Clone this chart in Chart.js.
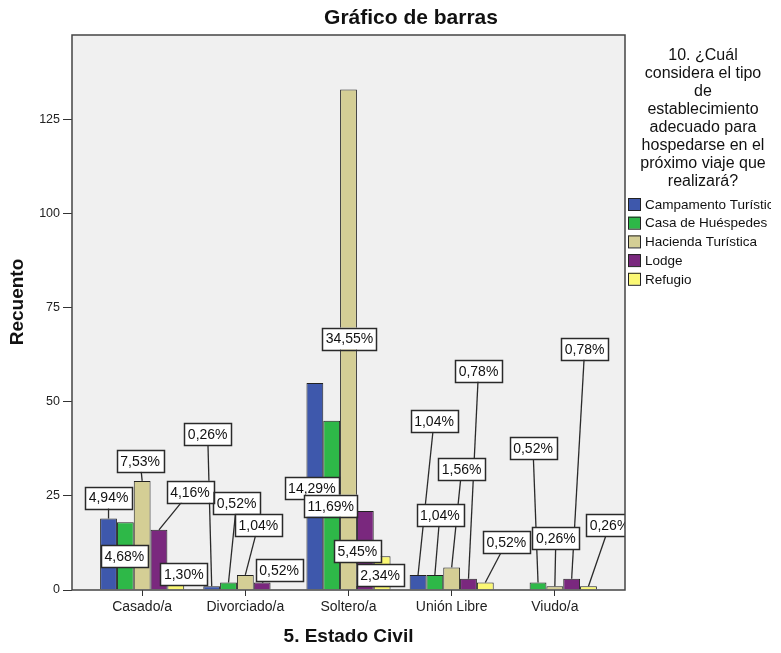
<!DOCTYPE html>
<html>
<head>
<meta charset="utf-8">
<script src="https://cdn.jsdelivr.net/npm/chart.js@4.4.1/dist/chart.umd.min.js"></script>
<style>
  html, body { margin: 0; padding: 0; background: #ffffff; }
  #wrap { width: 781px; height: 653px; }
</style>
</head>
<body>
<div id="wrap"><canvas id="chart" width="781" height="653"></canvas></div>
<script>
// Recuento por estado civil y tipo de establecimiento preferido
const categories = ['Casado/a', 'Divorciado/a', 'Soltero/a', 'Unión Libre', 'Viudo/a'];
const campamento    = [19, 1, 55, 4, 0];
const casaHuespedes = [18, 2, 45, 4, 2];
const hacienda      = [29, 4, 133, 6, 1];
const lodge         = [16, 2, 21, 3, 3];
const refugio       = [5, 0, 9, 2, 1];
const seriesNames = ['Campamento Turística', 'Casa de Huéspedes', 'Hacienda Turística', 'Lodge', 'Refugio'];
const yTicks = [0, 25, 50, 75, 100, 125];

const chartTitle = 'Gráfico de barras';
const xTitle = '5. Estado Civil';
const yTitle = 'Recuento';
const legendTitle = ['10. ¿Cuál', 'considera el tipo', 'de', 'establecimiento', 'adecuado para',
                     'hospedarse en el', 'próximo viaje que', 'realizará?'];

// Colores de las series
const seriesColors = ['#3E58AC', '#2EB848', '#D4CE95', '#7A287E', '#FBF874'];

// Desplazamiento (px) de cada etiqueta de porcentaje respecto al extremo superior de su barra
const labelOffsets = [
  [[0, -21], [-4, -152], [-3, 105], [16, -154], null],
  [[-1, 34], [8, -79], [-1, 85], [5, -60], [-5, -134]],
  [[-2, -20], [13, -50], [1, 249], [10, -98], [1, -48]],
  [[31, -38], [17, -12], [-8, 40], [10, -208], [13, -230]],
  [[8, 3], null, [-2, 19], [21, -40], [21, -61]]
];

const seriesValues = [campamento, casaHuespedes, hacienda, lodge, refugio];
const total = seriesValues.flat().reduce((a, b) => a + b, 0);
const pctText = v => (v / total * 100).toFixed(2).replace('.', ',') + '%';

const FONT = "'Liberation Sans', Arial, Helvetica, sans-serif";

const plotDecor = {
  id: 'plotDecor',
  beforeDraw(chart) {
    const { ctx, chartArea: a } = chart;
    ctx.save();
    ctx.fillStyle = '#ffffff';
    ctx.fillRect(0, 0, chart.width, chart.height);
    ctx.fillStyle = '#F0F0F0';
    ctx.fillRect(a.left, a.top, a.right - a.left, a.bottom - a.top);
    ctx.restore();
  },
  afterDatasetsDraw(chart) {
    const { ctx, chartArea: a } = chart;
    ctx.save();
    // etiquetas de porcentaje con líneas guía
    ctx.beginPath();
    ctx.rect(a.left, a.top, a.right - a.left, a.bottom - a.top);
    ctx.clip();
    ctx.font = '14px ' + FONT;
    const boxes = [];
    chart.data.datasets.forEach((ds, si) => {
      const meta = chart.getDatasetMeta(si);
      ds.data.forEach((pt, ci) => {
        const off = labelOffsets[si][ci];
        if (!off || pt.y <= 0) return;
        const bar = meta.data[ci];
        const text = pctText(pt.y);
        const w = ctx.measureText(text).width + 7;
        const h = 22;
        const cx = bar.x + off[0], cy = bar.y + off[1];
        boxes.push({ text, x: cx - w / 2, y: cy - h / 2, w, h, bx: bar.x, by: bar.y, cx, cy });
      });
    });
    ctx.strokeStyle = '#2a2a2a';
    ctx.lineWidth = 1.3;
    boxes.forEach(b => {
      if (b.y + b.h < b.by) {
        ctx.beginPath();
        ctx.moveTo(b.cx, b.cy);
        ctx.lineTo(b.bx, b.by);
        ctx.stroke();
      }
    });
    boxes.forEach(b => {
      ctx.fillStyle = '#ffffff';
      ctx.fillRect(b.x, b.y, b.w, b.h);
      ctx.lineWidth = 1.5;
      ctx.strokeStyle = '#2a2a2a';
      ctx.strokeRect(Math.round(b.x) + 0.5, Math.round(b.y) + 0.5, Math.round(b.w), Math.round(b.h));
      ctx.fillStyle = '#111111';
      ctx.textAlign = 'center';
      ctx.textBaseline = 'middle';
      ctx.fillText(b.text, b.cx, b.cy + 1);
    });
    ctx.restore();

    // marco del área de trazado
    ctx.save();
    ctx.strokeStyle = '#444444';
    ctx.lineWidth = 1.5;
    ctx.strokeRect(a.left, a.top, a.right - a.left, a.bottom - a.top);
    ctx.restore();
  },
  afterDraw(chart) {
    const { ctx } = chart;
    ctx.save();
    ctx.fillStyle = '#111111';
    ctx.textAlign = 'center';
    ctx.textBaseline = 'middle';

    // título principal
    ctx.font = 'bold 21px ' + FONT;
    ctx.fillText(chartTitle, 411, 18);

    // título del eje vertical
    ctx.save();
    ctx.translate(18, 302);
    ctx.rotate(-Math.PI / 2);
    ctx.font = 'bold 19px ' + FONT;
    ctx.fillText(yTitle, 0, 0);
    ctx.restore();

    // leyenda
    ctx.font = '16px ' + FONT;
    legendTitle.forEach((line, i) => ctx.fillText(line, 703, 56 + i * 17.9));
    ctx.beginPath();
    ctx.rect(620, 190, 151, 110);
    ctx.clip();
    ctx.font = '13.5px ' + FONT;
    ctx.textAlign = 'left';
    chart.data.datasets.forEach((ds, i) => {
      const y = 204 + i * 18.7;
      ctx.fillStyle = ds.backgroundColor;
      ctx.fillRect(628, y - 6, 12, 12);
      ctx.strokeStyle = '#222222';
      ctx.lineWidth = 1;
      ctx.strokeRect(628.5, y - 5.5, 12, 12);
      ctx.fillStyle = '#111111';
      ctx.fillText(ds.label, 645, y + 1);
    });
    ctx.restore();
  }
};

new Chart(document.getElementById('chart'), {
  type: 'bar',
  data: {
    datasets: seriesNames.map((name, si) => ({
      label: name,
      data: seriesValues[si].map((v, ci) => ({ x: ci, y: v })),
      backgroundColor: seriesColors[si],
      borderColor: '#222222',
      borderWidth: 1,
      categoryPercentage: 0.815,
      barPercentage: 1
    }))
  },
  options: {
    responsive: false,
    animation: false,
    devicePixelRatio: 1,
    layout: { padding: { top: 35, right: 156, left: 0, bottom: 0 } },
    plugins: {
      legend: { display: false },
      title: { display: false },
      tooltip: { enabled: false }
    },
    scales: {
      x: {
        type: 'linear',
        offset: false,
        min: -0.68,
        max: 4.68,
        afterBuildTicks: scale => { scale.ticks = categories.map((_, i) => ({ value: i })); },
        afterFit: scale => { scale.height = 63; },
        ticks: {
          autoSkip: false,
          maxRotation: 0,
          padding: 3,
          color: '#222222',
          font: { family: FONT, size: 14 },
          callback: v => categories[v]
        },
        grid: { offset: false, drawOnChartArea: false, drawTicks: true, tickLength: 6, color: '#333333' },
        border: { display: false },
        title: {
          display: true,
          text: xTitle,
          color: '#111111',
          font: { family: FONT, size: 19, weight: 'bold' },
          padding: { top: 0, bottom: 5 }
        }
      },
      y: {
        min: 0,
        max: 147.5,
        afterBuildTicks: scale => { scale.ticks = yTicks.map(v => ({ value: v })); },
        afterFit: scale => { scale.width = 72; },
        ticks: {
          padding: 3,
          color: '#222222',
          font: { family: FONT, size: 12.5 }
        },
        grid: { drawOnChartArea: false, drawTicks: true, tickLength: 9, color: '#333333' },
        border: { display: false }
      }
    }
  },
  plugins: [plotDecor]
});
</script>
</body>
</html>
